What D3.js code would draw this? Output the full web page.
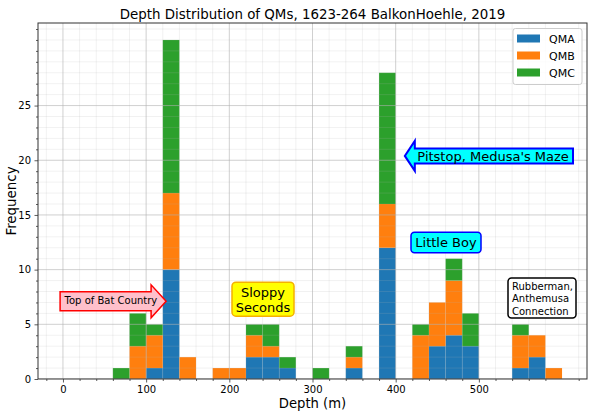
<!DOCTYPE html>
<html>
<head>
<meta charset="utf-8">
<script src="https://cdn.jsdelivr.net/npm/d3@7"></script>
<style>
  html, body { margin: 0; padding: 0; background: #fff; }
  svg { display: block; font-family: "DejaVu Sans", sans-serif; }
</style>
</head>
<body>
<svg id="chart" width="600" height="417"></svg>
<script>
// ---- data ----
const binStarts = [0,20,40,60,80,100,120,140,160,180,200,220,240,260,280,300,320,340,360,380,400,420,440,460,480,500,520,540,560,580];
const binWidth = 20;
const qma = [0,0,0,0,0,1,10,0,0,0,0,2,2,1,0,0,0,1,0,12,0,0,3,4,3,0,0,1,2,0];
const qmb = [0,0,0,0,3,3,7,2,0,1,1,2,1,0,0,0,0,1,0,4,0,4,4,5,0,0,0,3,2,1];
const qmc = [0,0,0,1,3,1,14,0,0,0,0,1,2,1,0,1,0,1,0,12,0,1,0,2,3,0,0,1,0,0];
const seriesNames = ["QMA", "QMB", "QMC"];
const xTicks = [0, 100, 200, 300, 400, 500];
const yTicks = [0, 5, 10, 15, 20, 25];
const titleText = "Depth Distribution of QMs, 1623-264 BalkonHoehle, 2019";
const xLabel = "Depth (m)";
const yLabel = "Frequency";

// ---- layout ----
const colors = {QMA: "#1f77b4", QMB: "#ff7f0e", QMC: "#2ca02c"};
const plot = {left: 38, right: 587, top: 23, bottom: 379};
const svg = d3.select("#chart");

const x = d3.scaleLinear().domain([-30, 630]).range([plot.left, plot.right]);
const yMax = 31 * 1.05;
const y = d3.scaleLinear().domain([0, yMax]).range([plot.bottom, plot.top]);

const rows = binStarts.map((b, i) => ({x0: b, QMA: qma[i], QMB: qmb[i], QMC: qmc[i]}));
const stacked = d3.stack().keys(seriesNames)(rows);

// clip
svg.append("defs").append("clipPath").attr("id", "clip")
  .append("rect").attr("x", plot.left).attr("y", plot.top)
  .attr("width", plot.right - plot.left).attr("height", plot.bottom - plot.top);

const minorX = d3.range(-20, 640, 20).filter(v => v % 100 !== 0);
const minorY = d3.range(0, 33, 1).filter(v => !yTicks.includes(v));

// bars
const barG = svg.append("g").attr("clip-path", "url(#clip)");
stacked.forEach(layer => {
  barG.append("g").attr("fill", colors[layer.key])
    .selectAll("rect").data(layer.filter(d => d[1] > d[0])).join("rect")
    .attr("x", d => x(d.data.x0))
    .attr("width", d => x(d.data.x0 + binWidth) - x(d.data.x0))
    .attr("y", d => y(d[1]))
    .attr("height", d => y(d[0]) - y(d[1]));
});

// grid over bars (semi-transparent)
const topGrid = svg.append("g").attr("clip-path", "url(#clip)");
topGrid.selectAll("line.mx").data(minorX).join("line")
  .attr("x1", d => x(d)).attr("x2", d => x(d))
  .attr("y1", plot.top).attr("y2", plot.bottom)
  .attr("stroke", "#b0b0b0").attr("stroke-opacity", 0.3).attr("stroke-width", 0.6);
topGrid.selectAll("line.my").data(minorY).join("line")
  .attr("y1", d => y(d)).attr("y2", d => y(d))
  .attr("x1", plot.left).attr("x2", plot.right)
  .attr("stroke", "#b0b0b0").attr("stroke-opacity", 0.3).attr("stroke-width", 0.6);
topGrid.selectAll("line.Mx").data(xTicks).join("line")
  .attr("x1", d => x(d)).attr("x2", d => x(d))
  .attr("y1", plot.top).attr("y2", plot.bottom)
  .attr("stroke", "#b0b0b0").attr("stroke-opacity", 0.6).attr("stroke-width", 1);
topGrid.selectAll("line.My").data(yTicks).join("line")
  .attr("y1", d => y(d)).attr("y2", d => y(d))
  .attr("x1", plot.left).attr("x2", plot.right)
  .attr("stroke", "#b0b0b0").attr("stroke-opacity", 0.6).attr("stroke-width", 1);

// axes
const xAxis = d3.axisBottom(x).tickValues(xTicks).tickSize(3.5).tickPadding(3.5).tickFormat(d3.format("d"));
const xMinor = d3.axisBottom(x).tickValues(minorX).tickSize(2).tickFormat("");
const yAxis = d3.axisLeft(y).tickValues(yTicks).tickSize(3.5).tickPadding(3.5).tickFormat(d3.format("d"));
const yMinor = d3.axisLeft(y).tickValues(minorY.filter(v => v <= yMax)).tickSize(2).tickFormat("");

function styleAxis(g) {
  g.select(".domain").remove();
  g.selectAll(".tick line").attr("stroke", "#333").attr("stroke-width", 0.8);
  g.selectAll(".tick text").attr("fill", "#000").attr("font-size", 10).attr("font-family", "DejaVu Sans, sans-serif");
}
svg.append("g").attr("transform", `translate(0,${plot.bottom})`).call(xMinor).call(styleAxis);
svg.append("g").attr("transform", `translate(0,${plot.bottom})`).call(xAxis).call(styleAxis);
svg.append("g").attr("transform", `translate(${plot.left},0)`).call(yMinor).call(styleAxis);
svg.append("g").attr("transform", `translate(${plot.left},0)`).call(yAxis).call(styleAxis);

// frame
svg.append("rect").attr("x", plot.left).attr("y", plot.top)
  .attr("width", plot.right - plot.left).attr("height", plot.bottom - plot.top)
  .attr("fill", "none").attr("stroke", "#333").attr("stroke-width", 1);

// title & labels
svg.append("text").attr("x", (plot.left + plot.right) / 2).attr("y", 18.5)
  .attr("text-anchor", "middle").attr("font-size", 13.4).text(titleText);
svg.append("text").attr("x", (plot.left + plot.right) / 2).attr("y", 408)
  .attr("text-anchor", "middle").attr("font-size", 13.2).text(xLabel);
svg.append("text").attr("transform", `translate(16,${(plot.top + plot.bottom) / 2}) rotate(-90)`)
  .attr("text-anchor", "middle").attr("font-size", 13.4).text(yLabel);

// legend
const lg = svg.append("g");
lg.append("rect").attr("x", 513).attr("y", 28.5).attr("width", 69).attr("height", 56)
  .attr("rx", 2.5).attr("fill", "#fff").attr("fill-opacity", 0.8)
  .attr("stroke", "#cccccc").attr("stroke-width", 1);
seriesNames.forEach((k, i) => {
  const cy = 38.5 + i * 17;
  lg.append("rect").attr("x", 517).attr("y", cy - 4).attr("width", 23).attr("height", 8).attr("fill", colors[k]);
  lg.append("text").attr("x", 549).attr("y", cy + 4).attr("font-size", 11).text(k);
});

// ---- annotations ----
const ann = svg.append("g");

// Top of Bat Country (right arrow)
{
  const tipX = x(124), tipY = y(7.1);
  const bx0 = tipX - 106, bx1 = tipX - 15, by0 = tipY - 9.5, by1 = tipY + 9.5;
  const p = d3.path();
  p.moveTo(bx0, by0); p.lineTo(bx1, by0); p.lineTo(bx1, by0 - 7); p.lineTo(tipX, tipY);
  p.lineTo(bx1, by1 + 7); p.lineTo(bx1, by1); p.lineTo(bx0, by1); p.closePath();
  ann.append("path").attr("d", p.toString()).attr("fill", "#ffc0cb").attr("stroke", "#ff0000").attr("stroke-width", 1.5);
  ann.append("text").attr("x", bx0 + 4.5).attr("y", tipY + 2.7).attr("font-size", 10).text("Top of Bat Country");
}

// Sloppy Seconds (round box)
{
  const cx = 263, cy = y(7.3);
  ann.append("rect").attr("x", cx - 31).attr("y", cy - 17).attr("width", 62).attr("height", 34)
    .attr("rx", 4).attr("fill", "#ffff00").attr("stroke", "#f5b000").attr("stroke-width", 1.5);
  ann.append("text").attr("x", cx).attr("y", cy - 2.5).attr("text-anchor", "middle").attr("font-size", 13).text("Sloppy");
  ann.append("text").attr("x", cx).attr("y", cy + 12.5).attr("text-anchor", "middle").attr("font-size", 13).text("Seconds");
}

// Pitstop, Medusa's Maze (left arrow)
{
  const tipX = x(411), tipY = y(20.4);
  const bx0 = tipX + 10, bx1 = 573, by0 = tipY - 7.5, by1 = tipY + 7.5;
  const p = d3.path();
  p.moveTo(bx1, by0); p.lineTo(bx0, by0); p.lineTo(bx0, by0 - 7.5); p.lineTo(tipX, tipY);
  p.lineTo(bx0, by1 + 7.5); p.lineTo(bx0, by1); p.lineTo(bx1, by1); p.closePath();
  ann.append("path").attr("d", p.toString()).attr("fill", "#00ffff").attr("stroke", "#0000ff").attr("stroke-width", 2);
  ann.append("text").attr("x", bx0 + 2.5).attr("y", tipY + 4.7).attr("font-size", 13).text("Pitstop, Medusa's Maze");
}

// Little Boy (round box)
{
  const cx = 446, cy = y(12.5);
  ann.append("rect").attr("x", cx - 35).attr("y", cy - 10).attr("width", 70).attr("height", 20.5)
    .attr("rx", 3.5).attr("fill", "#00ffff").attr("stroke", "#0000ff").attr("stroke-width", 1.5);
  ann.append("text").attr("x", cx).attr("y", cy + 4.7).attr("text-anchor", "middle").attr("font-size", 13).text("Little Boy");
}

// Rubberman, Anthemusa Connection (round box)
{
  const bx = 508, by = 278;
  ann.append("rect").attr("x", bx).attr("y", by).attr("width", 68).attr("height", 40)
    .attr("rx", 3.5).attr("fill", "#ffffff").attr("stroke", "#000000").attr("stroke-width", 1.5);
  ["Rubberman,", "Anthemusa", "Connection"].forEach((t, i) => {
    ann.append("text").attr("x", bx + 4).attr("y", by + 11.5 + i * 12.5).attr("font-size", 10).text(t);
  });
}
</script>
</body>
</html>
